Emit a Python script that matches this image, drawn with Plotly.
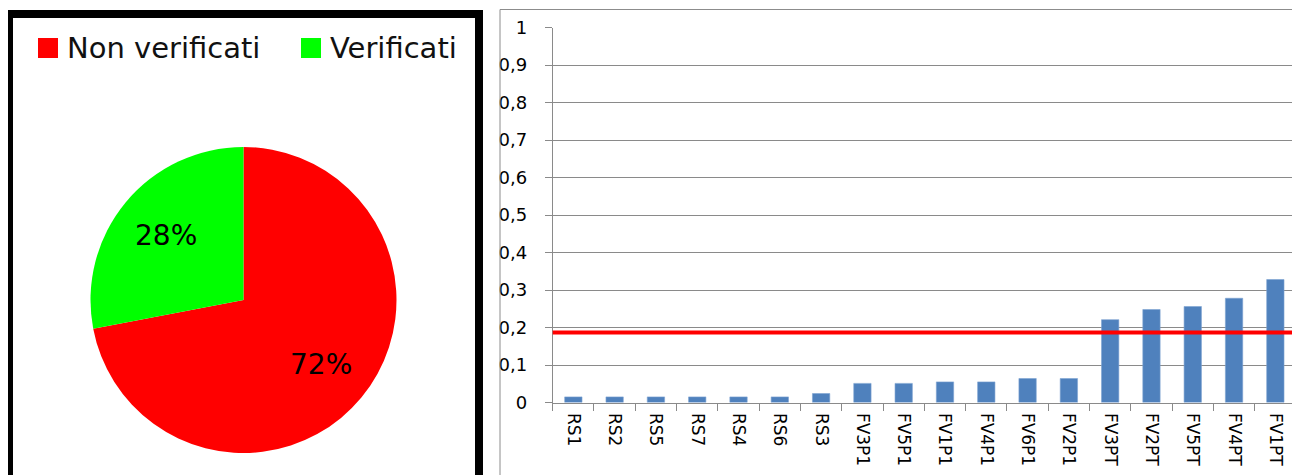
import math
import plotly.graph_objects as go

# ---------------- data ----------------
pie_labels = ["Non verificati", "Verificati"]
pie_values = [72, 28]
pie_colors = ["#ff0000", "#00ff00"]

categories = ["RS1", "RS2", "RS5", "RS7", "RS4", "RS6", "RS3",
              "FV3P1", "FV5P1", "FV1P1", "FV4P1", "FV6P1", "FV2P1",
              "FV3PT", "FV2PT", "FV5PT", "FV4PT", "FV1PT"]
values = [0.015, 0.015, 0.015, 0.015, 0.015, 0.015, 0.024,
          0.051, 0.051, 0.055, 0.055, 0.064, 0.064,
          0.221, 0.248, 0.256, 0.278, 0.328]
threshold = 0.187

y_ticks = [0, 0.1, 0.2, 0.3, 0.4, 0.5, 0.6, 0.7, 0.8, 0.9, 1]
y_tick_labels = ["0", "0,1", "0,2", "0,3", "0,4", "0,5", "0,6", "0,7", "0,8", "0,9", "1"]

# ---------------- layout helpers ----------------
W, H = 1300, 475
OFF = 8  # page body margin
FONT = "DejaVu Sans"
GRID = "#8a8a8a"


def px_x(v):
    return (v - OFF) / W


def px_y(v):
    return 1 - (v - OFF) / H


fig = go.Figure()

# pie geometry
pie_cx, pie_cy, pie_r = 243.5, 300.0, 153.0
fig.add_trace(go.Pie(
    labels=pie_labels,
    values=pie_values,
    marker=dict(colors=pie_colors, line=dict(width=0)),
    sort=False,
    direction="clockwise",
    rotation=0,
    textinfo="none",
    showlegend=False,
    hoverinfo="label+percent",
    domain=dict(x=[px_x(pie_cx - pie_r), px_x(pie_cx + pie_r)],
                y=[px_y(pie_cy + pie_r), px_y(pie_cy - pie_r)]),
))

fig.add_trace(go.Bar(
    x=categories,
    y=values,
    marker=dict(color="#4f81bd", line=dict(width=0.6, color="#7ea3d1")),
    showlegend=False,
))

shapes = [
    # left panel thick black frame
    dict(type="rect", xref="paper", yref="paper",
         x0=px_x(9), x1=px_x(479), y0=px_y(14), y1=px_y(495),
         line=dict(color="black", width=8), layer="above"),
    # right panel thin frame
    dict(type="rect", xref="paper", yref="paper",
         x0=px_x(500), x1=px_x(1330), y0=px_y(9.5), y1=px_y(495),
         line=dict(color="#8c8c8c", width=1), layer="above"),
    # threshold line
    dict(type="line", xref="x domain", yref="y",
         x0=0, x1=1.01, y0=threshold, y1=threshold,
         line=dict(color="#ff0000", width=4), layer="above"),
]

annotations = []

# percentage labels placed at slice mid-angles (derived from values)
total = float(sum(pie_values))
cum = 0.0
for v in pie_values:
    mid = (cum + v / 2.0) / total * 2 * math.pi  # clockwise from 12 o'clock
    cum += v
    lx = pie_cx + 0.66 * pie_r * math.sin(mid)
    ly = pie_cy - 0.66 * pie_r * math.cos(mid)
    annotations.append(dict(text=f"{round(100 * v / total)}%", xref="paper", yref="paper",
                            x=px_x(lx), y=px_y(ly), xanchor="center", yanchor="middle",
                            showarrow=False,
                            font=dict(family=FONT, size=28, color="black")))

# manual legend (large squares)
legend_sq_x = [38, 301]
legend_tx_x = [65, 328]
for lab, col, sx, tx in zip(pie_labels, pie_colors, legend_sq_x, legend_tx_x):
    shapes.append(dict(type="rect", xref="paper", yref="paper",
                       x0=px_x(sx), x1=px_x(sx + 20), y0=px_y(58), y1=px_y(38),
                       fillcolor=col, line=dict(width=0)))
    annotations.append(dict(text=lab, xref="paper", yref="paper",
                            x=px_x(tx), y=px_y(48), xanchor="left", yanchor="middle",
                            showarrow=False,
                            font=dict(family=FONT, size=29, color="#111111")))

fig.update_layout(
    width=W, height=H,
    margin=dict(l=0, r=0, t=0, b=0, autoexpand=False),
    paper_bgcolor="white",
    plot_bgcolor="white",
    bargap=0.58,
    shapes=shapes,
    annotations=annotations,
    xaxis=dict(
        domain=[px_x(552.7), px_x(1296)],
        type="category",
        automargin=False,
        tickangle=90,
        ticks="outside", ticklen=7, tickcolor=GRID, tickson="boundaries",
        showline=True, linecolor=GRID, linewidth=1,
        showgrid=False,
        tickfont=dict(family=FONT, size=17, color="black"),
        ticklabelstandoff=6,
        fixedrange=True,
    ),
    yaxis=dict(
        domain=[px_y(402.5), px_y(27.5)],
        range=[0, 1],
        automargin=False,
        tickvals=y_ticks, ticktext=y_tick_labels,
        ticks="outside", ticklen=7, tickcolor=GRID,
        showline=True, linecolor=GRID, linewidth=1,
        showgrid=True, gridcolor=GRID, gridwidth=1,
        zeroline=False,
        tickfont=dict(family=FONT, size=18, color="black"),
        ticklabelstandoff=14,
        fixedrange=True,
    ),
)

fig.write_html("out.html")
